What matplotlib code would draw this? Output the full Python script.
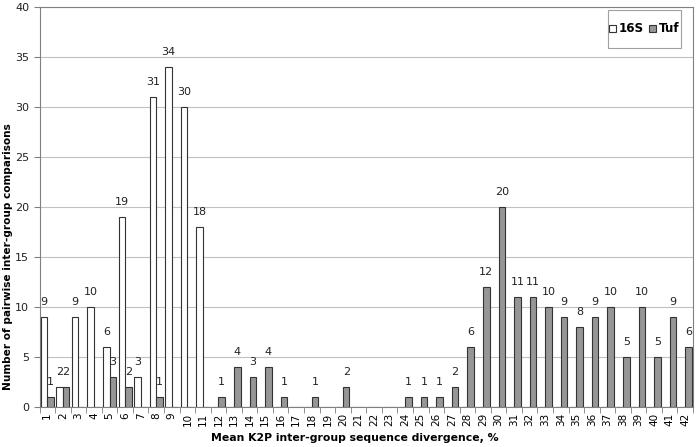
import matplotlib
matplotlib.use("Agg")
import matplotlib.pyplot as plt
from matplotlib.patches import Rectangle
import numpy as np

# divergence classes, %
categories = list(range(1, 43))

# number of pairwise comparisons per class
s16 = {1: 9, 2: 2, 3: 9, 4: 10, 5: 6, 6: 19, 7: 3, 8: 31, 9: 34, 10: 30, 11: 18}
tuf = {1: 1, 2: 2, 5: 3, 6: 2, 8: 1, 12: 1, 13: 4, 14: 3, 15: 4, 16: 1, 18: 1,
       20: 2, 24: 1, 25: 1, 26: 1, 27: 2, 28: 6, 29: 12, 30: 20, 31: 11, 32: 11,
       33: 10, 34: 9, 35: 8, 36: 9, 37: 10, 38: 5, 39: 10, 40: 5, 41: 9, 42: 6}

y16 = np.array([s16.get(c, 0) for c in categories])
ytuf = np.array([tuf.get(c, 0) for c in categories])
x = np.array(categories)

fig = plt.figure(figsize=(6.97, 4.47), dpi=100)
ax = fig.add_axes([0.0567, 0.0895, 0.9376, 0.8949])

w = 0.42
ax.bar(x - w/2, y16, w, color='white', edgecolor='#333333', linewidth=0.8,
       label='16S', zorder=3)
ax.bar(x + w/2, ytuf, w, color='#969696', edgecolor='#333333', linewidth=0.8,
       label='Tuf', zorder=3)

# value labels on non-zero bars
for xs, ys in ((x - w/2, y16), (x + w/2, ytuf)):
    for xi, yi in zip(xs, ys):
        if yi > 0:
            ax.annotate(str(yi), (xi, yi), xytext=(0, 7.5), textcoords='offset points',
                        ha='center', va='bottom', fontsize=8, color='#222222')

ax.set_xlim(0.5, 42.5)
ax.set_ylim(0, 40)
ax.set_yticks(np.arange(0, 41, 5))
ax.set_xticks(x)
ax.set_xticklabels([str(c) for c in categories], rotation=90, fontsize=7.5)
ax.set_xticks(np.arange(0.5, 43, 1), minor=True)
ax.tick_params(axis='x', which='major', length=0, pad=4)
ax.tick_params(axis='x', which='minor', length=4, color='#808080')
ax.tick_params(axis='y', labelsize=8, length=4, color='#808080', labelcolor='#222222')

ax.yaxis.grid(True, color='#c0c0c0', linewidth=0.8, zorder=0)
for s in ax.spines.values():
    s.set_color('#808080')

ax.set_xlabel('Mean K2P inter-group sequence divergence, %', fontsize=7.8,
              fontweight='bold')
ax.xaxis.set_label_coords(0.483, -0.065)
ax.set_ylabel('Number of pairwise inter-group comparisons', fontsize=7.6,
              fontweight='bold')
ax.yaxis.set_label_coords(-0.0405, 0.375)

# legend box: wider vertical padding than horizontal, like the original
ax.add_patch(Rectangle((0.870, 0.8975), 0.1117, 0.095, transform=ax.transAxes,
                       facecolor='white', edgecolor='#a0a0a0', linewidth=0.8,
                       zorder=4))
leg = ax.legend(loc='center', bbox_to_anchor=(0.9255, 0.945), ncol=2,
                prop={'weight': 'bold', 'size': 8.6}, handlelength=0.55,
                handleheight=0.55, handletextpad=0.25, columnspacing=0.45,
                frameon=False, borderpad=0)
leg.set_zorder(5)

fig.savefig('out.png', dpi=100)
